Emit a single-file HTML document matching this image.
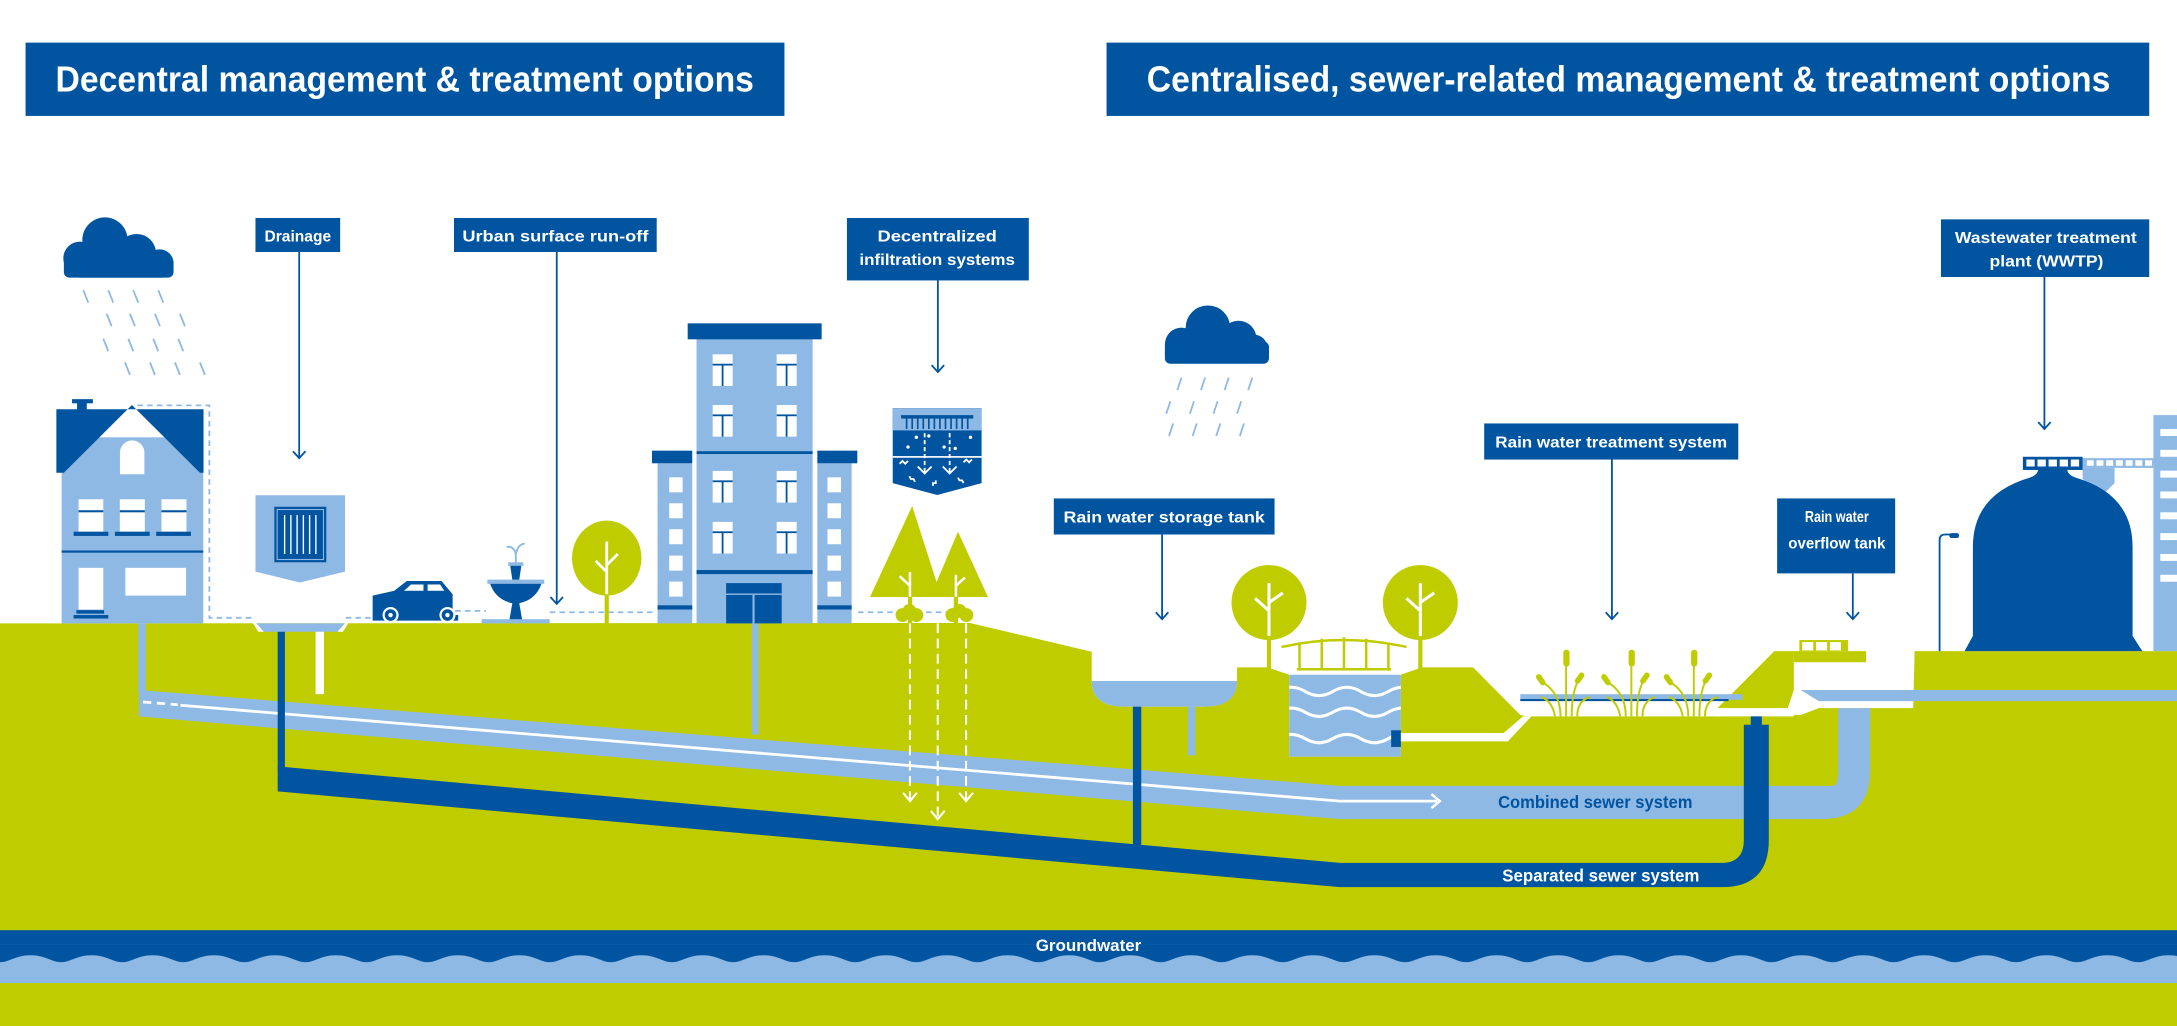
<!DOCTYPE html>
<html><head><meta charset="utf-8"><style>
html,body{margin:0;padding:0;background:#fff;}
svg{display:block;}
text{font-family:"Liberation Sans",sans-serif;font-weight:bold;}
</style></head><body>
<svg width="2177" height="1026" viewBox="0 0 1568 739" preserveAspectRatio="none" xmlns="http://www.w3.org/2000/svg">
<defs>
<clipPath id="pondclip"><rect x="928.6" y="486" width="80.4" height="59"/></clipPath>
<pattern id="wave" x="0" y="680" width="44" height="30" patternUnits="userSpaceOnUse">
<path d="M0,13 c7,0 11,-5 22,-5 c11,0 15,5 22,5 L44,30 L0,30 Z" fill="#8fb9e5"/>
</pattern>
</defs>
<rect width="1568" height="739" fill="#fff"/>

<!-- Headers -->
<rect x="18.4" y="30.7" width="546.6" height="52.8" fill="#0054a0"/>
<text x="40" y="66" font-size="26" fill="#fff" textLength="503" lengthAdjust="spacingAndGlyphs">Decentral management &amp; treatment options</text>
<rect x="797" y="30.7" width="751" height="52.8" fill="#0054a0"/>
<text x="826" y="66" font-size="26" fill="#fff" textLength="694" lengthAdjust="spacingAndGlyphs">Centralised, sewer-related management &amp; treatment options</text>

<!-- Clouds -->
<g fill="#0054a0">
<circle cx="75.6" cy="172.9" r="16.3"/><circle cx="57.6" cy="186" r="12"/><circle cx="98.4" cy="182.5" r="14"/><circle cx="115" cy="189.6" r="10"/>
<rect x="46" y="185" width="79" height="15" rx="4"/>
<rect x="57" y="180" width="60" height="20"/>
</g>
<g stroke="#8fb9e5" stroke-width="1.3">
<line x1="60" y1="209" x2="63.6" y2="218"/><line x1="78" y1="209" x2="81.6" y2="218"/><line x1="96" y1="209" x2="99.6" y2="218"/><line x1="114" y1="209" x2="117.6" y2="218"/>
<line x1="76.8" y1="226" x2="80.4" y2="235"/><line x1="93.6" y1="226" x2="97.2" y2="235"/><line x1="111.6" y1="226" x2="115.2" y2="235"/><line x1="129.6" y1="226" x2="133.2" y2="235"/>
<line x1="74.4" y1="244" x2="78" y2="253"/><line x1="92.4" y1="244" x2="96" y2="253"/><line x1="110.4" y1="244" x2="114" y2="253"/><line x1="128.4" y1="244" x2="132" y2="253"/>
<line x1="90" y1="261" x2="93.6" y2="270"/><line x1="108" y1="261" x2="111.6" y2="270"/><line x1="126" y1="261" x2="129.6" y2="270"/><line x1="144" y1="261" x2="147.6" y2="270"/>
</g>
<g fill="#0054a0">
<circle cx="870" cy="236" r="16"/><circle cx="851" cy="248" r="12"/><circle cx="892" cy="244" r="13"/><circle cx="903" cy="251" r="10"/>
<rect x="839" y="246" width="75" height="16" rx="4"/>
</g>
<g stroke="#8fb9e5" stroke-width="1.3">
<line x1="848" y1="281" x2="851" y2="272"/><line x1="865" y1="281" x2="868" y2="272"/><line x1="882" y1="281" x2="885" y2="272"/><line x1="899" y1="281" x2="902" y2="272"/>
<line x1="840" y1="298" x2="843" y2="289"/><line x1="857" y1="298" x2="860" y2="289"/><line x1="874" y1="298" x2="877" y2="289"/><line x1="891" y1="298" x2="894" y2="289"/>
<line x1="842" y1="314" x2="845" y2="305"/><line x1="859" y1="314" x2="862" y2="305"/><line x1="876" y1="314" x2="879" y2="305"/><line x1="893" y1="314" x2="896" y2="305"/>
</g>

<!-- Ground -->
<path d="M0,449 L698.6,448.7 L786.3,469.4 L786.3,490.5 Q786.3,509 810,509 L867,509 Q891,509 891,490 L891,480.7 L913,480.7 L928.6,486 L928.6,545 L1009,545 L1009,486 L1024,480.7 L1061,480.7 L1095,515 L1100,516 L1240,516 L1237,510 L1278,469 L1292,469 L1292,497 L1297,497 L1297,510 L1378,510 L1379,469 L1568,469 L1568,739 L0,739 Z" fill="#bfcd00"/>
<path d="M786.3,490.5 L891,490.5 Q891,509 867,509 L810,509 Q786.3,509 786.3,490.5 Z" fill="#8fb9e5"/>
<rect x="928.6" y="486" width="80.4" height="59" fill="#8fb9e5"/>
<g clip-path="url(#pondclip)" fill="none" stroke="#fff" stroke-width="2.2">
<path d="M920,498 q10,-6 20,0 t20,0 t20,0 t20,0 t20,0"/>
<path d="M920,513 q10,-6 20,0 t20,0 t20,0 t20,0 t20,0"/>
<path d="M920,532 q10,-6 20,0 t20,0 t20,0 t20,0 t20,0"/>
</g>
<rect x="1002" y="526" width="7" height="12" fill="#0054a0"/>
<path d="M1009,528 L1083,528 L1097,516 L1103,516 L1086,534 L1009,534 Z" fill="#fff"/>
<g stroke="#bfcd00" stroke-width="1.8" fill="none">
<path d="M923,466 Q968,456 1013,466"/>
<line x1="936" y1="464" x2="936" y2="483"/><line x1="952" y1="460" x2="952" y2="483"/><line x1="968" y1="459" x2="968" y2="483"/><line x1="984" y1="460" x2="984" y2="483"/><line x1="1000" y1="464" x2="1000" y2="483"/>
<line x1="934" y1="482" x2="1002" y2="482"/>
</g>
<g fill="#bfcd00">
<ellipse cx="914" cy="434" rx="27" ry="27"/><rect x="912.5" y="455" width="3" height="28"/>
<ellipse cx="1023" cy="434" rx="27" ry="27"/><rect x="1021.5" y="455" width="3" height="28"/>
</g>
<g stroke="#fff" stroke-width="2.2" fill="none">
<path d="M914,458 L914,420 M914,440 L904,431 M914,434 L924,427"/>
<path d="M1023,458 L1023,420 M1023,440 L1013,431 M1023,434 L1033,427"/>
</g>
<rect x="1095" y="500" width="160" height="4" fill="#8fb9e5"/>
<rect x="1095" y="503.5" width="150" height="1.5" fill="#0054a0"/>
<g stroke="#bfcd00" stroke-width="1.4" fill="none">
<path d="M1128,516 L1128,470 M1124,516 Q1124,500 1112,492 M1132,516 Q1132,497 1138,488 M1120,516 Q1118,505 1110,502 M1136,516 Q1136,505 1145,502"/>
<path d="M1175,516 L1175,470 M1171,516 Q1171,500 1159,492 M1179,516 Q1179,497 1185,488 M1167,516 Q1165,505 1157,502 M1183,516 Q1183,505 1192,502"/>
<path d="M1220,516 L1220,470 M1216,516 Q1216,500 1204,492 M1224,516 Q1224,497 1230,488 M1212,516 Q1210,505 1202,502 M1228,516 Q1228,505 1237,502"/>
</g>
<g fill="#bfcd00">
<rect x="1126" y="468" width="4.5" height="12" rx="2"/><rect x="1173" y="468" width="4.5" height="12" rx="2"/><rect x="1218" y="468" width="4.5" height="12" rx="2"/>
<rect x="1108" y="485" width="4" height="9" rx="2" transform="rotate(-35 1110 490)"/><rect x="1136" y="484" width="4" height="9" rx="2" transform="rotate(35 1138 488)"/>
<rect x="1155" y="485" width="4" height="9" rx="2" transform="rotate(-35 1157 490)"/><rect x="1183" y="484" width="4" height="9" rx="2" transform="rotate(35 1185 488)"/>
<rect x="1200" y="485" width="4" height="9" rx="2" transform="rotate(-35 1202 490)"/><rect x="1228" y="484" width="4" height="9" rx="2" transform="rotate(35 1230 488)"/>
</g>
<rect x="1292" y="469" width="52" height="8" fill="#bfcd00"/>
<rect x="1296" y="461" width="35" height="8" fill="#bfcd00"/>
<rect x="1298" y="462.5" width="8" height="6" fill="#fff"/><rect x="1308" y="462.5" width="8" height="6" fill="#fff"/><rect x="1318" y="462.5" width="8" height="6" fill="#fff"/>
<path d="M1297,497 L1568,497 L1568,505 L1310,505 Z" fill="#8fb9e5"/>
<path d="M1292,497 L1297,497 L1310,510 L1297,515 L1286,515 Z" fill="#fff"/>
<rect x="1237" y="510" width="55" height="6" fill="#fff"/>

<!-- Underground pipes -->
<path d="M100,497 L965,566 L1320,566 Q1324,566 1324,555 L1324,510 L1347,510 L1347,555 Q1347,590 1312,590 L965,590 L100,516 Z" fill="#8fb9e5"/>
<polyline points="130,508 965,577 1035,577" fill="none" stroke="#fff" stroke-width="2"/>
<line x1="103" y1="505.6" x2="128" y2="507.6" stroke="#fff" stroke-width="2" stroke-dasharray="6,4"/>
<polyline points="1031,572 1037,577 1031,582" fill="none" stroke="#fff" stroke-width="1.8"/>
<text x="1079" y="582" font-size="12.5" fill="#0054a0" textLength="140" lengthAdjust="spacingAndGlyphs">Combined sewer system</text>

<path d="M200,552 L965,621.5 L1240,621.5 Q1256,621.5 1256,605 L1256,522 L1261,522 L1261,516 L1269,516 L1269,522 L1274,522 L1274,605 Q1274,639 1240,639 L965,639 L200,570 Z" fill="#0054a0"/>
<text x="1082" y="635" font-size="12.5" fill="#fff" textLength="142" lengthAdjust="spacingAndGlyphs">Separated sewer system</text>

<rect x="99.6" y="449" width="5.4" height="50" fill="#8fb9e5"/>
<rect x="200" y="454" width="5.2" height="100" fill="#0054a0"/>
<rect x="227.3" y="454" width="6" height="46" fill="#fff"/>
<rect x="541.5" y="449" width="5" height="80" fill="#8fb9e5"/>
<rect x="816" y="509" width="6" height="100" fill="#0054a0"/>
<rect x="855.6" y="509" width="5.4" height="35" fill="#8fb9e5"/>

<g stroke="#fff" stroke-width="1.5" fill="none">
<line x1="655.4" y1="449" x2="655.4" y2="577" stroke-dasharray="7,4"/>
<line x1="675.4" y1="449" x2="675.4" y2="590" stroke-dasharray="7,4"/>
<line x1="695.8" y1="449" x2="695.8" y2="577" stroke-dasharray="7,4"/>
<polyline points="650.4,571 655.4,577 660.4,571"/>
<polyline points="670.4,584 675.4,590 680.4,584"/>
<polyline points="690.8,571 695.8,577 700.8,571"/>
</g>

<!-- Groundwater -->
<rect x="0" y="670" width="1568" height="38" fill="#0054a0"/>
<rect x="0" y="680" width="1568" height="28" fill="url(#wave)"/>
<text x="746" y="685" font-size="12" fill="#fff" textLength="76" lengthAdjust="spacingAndGlyphs">Groundwater</text>

<!-- House -->
<rect x="44.4" y="315" width="102" height="134" fill="#8fb9e5"/>
<path d="M40.6,294.8 L146.6,294.8 L146.6,340.5 L144,340.5 L95,291.7 L46,340.5 L40.6,340.5 Z" fill="#0054a0"/>
<rect x="51.9" y="287.5" width="15" height="3" fill="#0054a0"/><rect x="55.5" y="290" width="7" height="5" fill="#0054a0"/>
<path d="M86.4,341.6 L86.4,326 A8.8,8.8 0 0 1 104,326 L104,341.6 Z" fill="#fff"/>
<g fill="#fff"><rect x="56.6" y="359.6" width="17.8" height="23.3"/><rect x="86.3" y="359.6" width="18" height="23.3"/><rect x="116.3" y="359.6" width="18" height="23.3"/></g>
<g fill="#0054a0"><rect x="56.6" y="367.5" width="17.8" height="1.5"/><rect x="86.3" y="367.5" width="18" height="1.5"/><rect x="116.3" y="367.5" width="18" height="1.5"/>
<rect x="53" y="383" width="25" height="3"/><rect x="82.8" y="383" width="25" height="3"/><rect x="112.5" y="383" width="25" height="3"/>
<rect x="44.4" y="396.5" width="102" height="1.6"/>
<rect x="53" y="443" width="25" height="2.5"/><rect x="55" y="439.5" width="20" height="2.5"/></g>
<rect x="56.6" y="409" width="17.8" height="30" fill="#fff"/>
<rect x="90.3" y="409" width="43.7" height="20" fill="#fff"/>
<g fill="none" stroke="#8fb9e5" stroke-width="1.3" stroke-dasharray="4,3">
<polyline points="99,292 150.8,292 150.8,445 184,445"/>
<polyline points="249,445 268,445"/>
<polyline points="300,420 314,420 320,428 322,440 350,440"/>
<polyline points="396,441 470,441"/>
<polyline points="618,441 700,441"/>
</g>
<path d="M184.8,449 L248.5,449 L243,455 L190,455 Z" fill="#8fb9e5"/>
<path d="M181,447 L184.8,449 L190,455 L186,455 Z M252,447 L248.5,449 L243,455 L247,455 Z" fill="#fff"/>
<path d="M184,356.7 L248.5,356.7 L248.5,411.7 L216,419.6 L184,411.7 Z" fill="#8fb9e5"/>
<rect x="197.6" y="365" width="37.4" height="40" fill="#0054a0"/>
<rect x="199.6" y="367" width="33.4" height="36" fill="none" stroke="#8fb9e5" stroke-width="0.8"/>
<g stroke="#fff" stroke-width="1"><line x1="205" y1="371" x2="205" y2="399"/><line x1="209.5" y1="371" x2="209.5" y2="399"/><line x1="214" y1="371" x2="214" y2="399"/><line x1="218.5" y1="371" x2="218.5" y2="399"/><line x1="223" y1="371" x2="223" y2="399"/><line x1="227.5" y1="371" x2="227.5" y2="399"/></g>
<!-- Car -->
<path d="M268.4,437 L268.4,429 L284,425.5 L293,418.5 L318,418.5 L326,428 L326,443 L330,443 L330,447 L268.4,447 Z" fill="#0054a0"/>
<path d="M291,425.5 L296,421 L305,421 L305,425.5 Z M308,421 L317,421 L320,425.5 L308,425.5 Z" fill="#fff"/>
<circle cx="281.3" cy="443" r="5.8" fill="#fff"/><circle cx="281.3" cy="443" r="4.2" fill="#0054a0"/><circle cx="281.3" cy="443" r="1.6" fill="#fff"/>
<circle cx="322.3" cy="443" r="5.8" fill="#fff"/><circle cx="322.3" cy="443" r="4.2" fill="#0054a0"/><circle cx="322.3" cy="443" r="1.6" fill="#fff"/>
<!-- Fountain -->
<rect x="346.9" y="446" width="49" height="3" fill="#8fb9e5"/>
<rect x="351" y="417.5" width="41" height="3" fill="#8fb9e5"/>
<path d="M353,420.5 L390,420.5 Q386,432 374,434.5 L376,446 L367,446 L369,434.5 Q357,432 353,420.5 Z" fill="#0054a0"/>
<rect x="366" y="405" width="11" height="2.5" fill="#8fb9e5"/>
<path d="M367.5,407.5 L375.5,407.5 L374,417.5 L369,417.5 Z" fill="#0054a0"/>
<path d="M371.5,405 L371.5,397 M371.5,399 Q370,393 365,394 M371.5,399 Q373,392 378,391.5" fill="none" stroke="#8fb9e5" stroke-width="1.4"/>
<!-- Tree -->
<ellipse cx="437" cy="402" rx="25" ry="27" fill="#bfcd00"/>
<rect x="435.5" y="425" width="3" height="24" fill="#bfcd00"/>
<path d="M437,428 L437,390 M437,412 L429,404 M437,407 L445,399" stroke="#fff" stroke-width="2" fill="none"/>
<!-- Building -->
<rect x="501.7" y="244" width="83.6" height="205" fill="#8fb9e5"/>
<rect x="495.3" y="232.9" width="96.5" height="11.5" fill="#0054a0"/>
<rect x="501.7" y="325" width="83.6" height="2" fill="#0054a0"/>
<rect x="501.7" y="410.6" width="83.6" height="2.9" fill="#0054a0"/>
<rect x="473.6" y="333.7" width="25" height="115.3" fill="#8fb9e5"/><rect x="469.6" y="324.6" width="29" height="9.1" fill="#0054a0"/>
<rect x="588.7" y="333.7" width="24.7" height="115.3" fill="#8fb9e5"/><rect x="588.7" y="324.6" width="28.8" height="9.1" fill="#0054a0"/>
<rect x="473.6" y="436" width="25" height="3" fill="#0054a0"/><rect x="588.7" y="436" width="24.7" height="3" fill="#0054a0"/>
<g fill="#fff">
<rect x="513.3" y="255.2" width="14.4" height="22.8"/><rect x="559.4" y="255.2" width="14.4" height="22.8"/>
<rect x="513.3" y="291.7" width="14.4" height="22.8"/><rect x="559.4" y="291.7" width="14.4" height="22.8"/>
<rect x="513.3" y="339.2" width="14.4" height="22.8"/><rect x="559.4" y="339.2" width="14.4" height="22.8"/>
<rect x="513.3" y="375.9" width="14.4" height="22.8"/><rect x="559.4" y="375.9" width="14.4" height="22.8"/>
<rect x="482" y="343.8" width="9.7" height="10.8"/><rect x="482" y="362.5" width="9.7" height="10.8"/><rect x="482" y="381.2" width="9.7" height="10.8"/><rect x="482" y="400.2" width="9.7" height="10.8"/><rect x="482" y="418.9" width="9.7" height="10.8"/>
<rect x="596" y="343.8" width="9.7" height="10.8"/><rect x="596" y="362.5" width="9.7" height="10.8"/><rect x="596" y="381.2" width="9.7" height="10.8"/><rect x="596" y="400.2" width="9.7" height="10.8"/><rect x="596" y="418.9" width="9.7" height="10.8"/>
</g>
<g fill="#0054a0">
<rect x="513.3" y="262" width="14.4" height="1.3"/><rect x="559.4" y="262" width="14.4" height="1.3"/><rect x="519.8" y="263" width="1.3" height="15"/><rect x="565.9" y="263" width="1.3" height="15"/>
<rect x="513.3" y="298.5" width="14.4" height="1.3"/><rect x="559.4" y="298.5" width="14.4" height="1.3"/><rect x="519.8" y="299.5" width="1.3" height="15"/><rect x="565.9" y="299.5" width="1.3" height="15"/>
<rect x="513.3" y="346" width="14.4" height="1.3"/><rect x="559.4" y="346" width="14.4" height="1.3"/><rect x="519.8" y="347" width="1.3" height="15"/><rect x="565.9" y="347" width="1.3" height="15"/>
<rect x="513.3" y="382.7" width="14.4" height="1.3"/><rect x="559.4" y="382.7" width="14.4" height="1.3"/><rect x="519.8" y="383.7" width="1.3" height="15"/><rect x="565.9" y="383.7" width="1.3" height="15"/>
<rect x="523" y="420" width="40" height="7.5"/><rect x="523" y="428.5" width="19" height="20.5"/><rect x="543.5" y="428.5" width="19.5" height="20.5"/>
</g>
<!-- Infiltration icon -->
<path d="M643,294 L707,294 L707,348 L675,356.5 L643,348 Z" fill="#0054a0"/>
<rect x="643" y="294" width="64" height="16" fill="#8fb9e5"/>
<rect x="649" y="299" width="52" height="2.5" fill="#0054a0"/>
<g stroke="#0054a0" stroke-width="1.2"><line x1="653" y1="301" x2="653" y2="309"/><line x1="657" y1="301" x2="657" y2="309"/><line x1="661" y1="301" x2="661" y2="309"/><line x1="665" y1="301" x2="665" y2="309"/><line x1="669" y1="301" x2="669" y2="309"/><line x1="673" y1="301" x2="673" y2="309"/><line x1="677" y1="301" x2="677" y2="309"/><line x1="681" y1="301" x2="681" y2="309"/><line x1="685" y1="301" x2="685" y2="309"/><line x1="689" y1="301" x2="689" y2="309"/><line x1="693" y1="301" x2="693" y2="309"/><line x1="697" y1="301" x2="697" y2="309"/></g>
<rect x="643" y="328.5" width="64" height="1.2" fill="#fff"/>
<g fill="#fff"><circle cx="654" cy="322" r="1.2"/><circle cx="660" cy="315" r="1.2"/><circle cx="669" cy="314" r="1.2"/><circle cx="680" cy="322" r="1.2"/><circle cx="688" cy="323" r="1.2"/><circle cx="699" cy="315" r="1.2"/></g>
<g stroke="#fff" stroke-width="1.3" fill="none"><line x1="666" y1="312" x2="666" y2="341" stroke-dasharray="3,2"/><line x1="684" y1="312" x2="684" y2="341" stroke-dasharray="3,2"/>
<polyline points="661,336 666,341 671,336"/><polyline points="679,336 684,341 689,336"/>
<path d="M648,334 l2,-2 l2,2 l2,-2 M694,333 l2,-2 l2,2 l2,-2 M655,343 l1,2 l2,0 l1,2 M672,350 l0,-2 l2,0 l0,-2 M690,344 l1,2 l2,0 l1,2"/></g>
<polygon points="657,364.5 678,430 626.6,430" fill="#bfcd00"/>
<polygon points="690,383 711.6,430 670,430" fill="#bfcd00"/>
<rect x="654" y="410" width="3" height="39" fill="#bfcd00"/><rect x="687" y="410" width="3" height="39" fill="#bfcd00"/>
<path d="M655.4,430 L655.4,412 M655.4,422 L648,415 M688.5,430 L688.5,414 M688.5,422 L695,416" stroke="#fff" stroke-width="1.8"/>
<g fill="#bfcd00"><circle cx="650" cy="443" r="5"/><circle cx="655" cy="440" r="5"/><circle cx="660" cy="443" r="5"/><circle cx="686" cy="443" r="5"/><circle cx="691" cy="440" r="5"/><circle cx="696" cy="443" r="5"/></g>

<!-- WWTP -->
<rect x="1551" y="299" width="17" height="170" fill="#8fb9e5"/>
<g fill="#fff"><rect x="1556" y="309" width="12" height="5"/><rect x="1556" y="324" width="12" height="5"/><rect x="1556" y="339" width="12" height="5"/><rect x="1556" y="354" width="12" height="5"/><rect x="1556" y="369" width="12" height="5"/><rect x="1556" y="384" width="12" height="5"/><rect x="1556" y="399" width="12" height="5"/><rect x="1556" y="414" width="12" height="5"/></g>
<rect x="1500" y="330" width="51" height="7" fill="#8fb9e5"/>
<path d="M1500,337 L1523,337 L1523,348 L1515,356 L1500,345 Z" fill="#8fb9e5"/>
<g fill="#fff"><rect x="1503" y="331.5" width="5" height="4"/><rect x="1510" y="331.5" width="5" height="4"/><rect x="1517" y="331.5" width="5" height="4"/><rect x="1524" y="331.5" width="5" height="4"/><rect x="1531" y="331.5" width="5" height="4"/><rect x="1538" y="331.5" width="5" height="4"/><rect x="1545" y="331.5" width="5" height="4"/></g>
<path d="M1468,338 Q1468,342 1462,344 Q1421,356 1421,394 L1421,458 L1415,469 L1543,469 L1536,458 L1536,394 Q1536,356 1495,344 Q1489,342 1489,338 Z" fill="#0054a0"/>
<rect x="1457" y="329" width="43" height="9.5" fill="#0054a0"/>
<g fill="#fff"><rect x="1459.5" y="331" width="6" height="5"/><rect x="1467.5" y="331" width="6" height="5"/><rect x="1475.5" y="331" width="6" height="5"/><rect x="1483.5" y="331" width="6" height="5"/><rect x="1491.5" y="331" width="6" height="5"/></g>
<path d="M1397,469 L1397,389 Q1397,385 1401,385 L1405,385" fill="none" stroke="#0054a0" stroke-width="1.3"/>
<rect x="1404" y="384" width="7" height="3.5" rx="1.5" fill="#0054a0"/>

<!-- Label boxes & arrows -->
<g fill="#0054a0">
<rect x="184" y="157" width="61" height="24.5"/>
<rect x="327" y="157" width="146" height="24.5"/>
<rect x="610" y="157" width="131" height="45"/>
<rect x="759" y="359" width="159" height="26"/>
<rect x="1069" y="305" width="183" height="26"/>
<rect x="1280" y="359" width="85" height="54"/>
<rect x="1398" y="158" width="150" height="41.5"/>
</g>
<g fill="#fff" font-size="11.5">
<text x="190.5" y="174" textLength="48" lengthAdjust="spacingAndGlyphs">Drainage</text>
<text x="333" y="174" textLength="134" lengthAdjust="spacingAndGlyphs">Urban surface run-off</text>
<text x="632" y="174" textLength="86" lengthAdjust="spacingAndGlyphs">Decentralized</text>
<text x="619" y="191" textLength="112" lengthAdjust="spacingAndGlyphs">infiltration systems</text>
<text x="766" y="376.5" textLength="145" lengthAdjust="spacingAndGlyphs">Rain water storage tank</text>
<text x="1077" y="322.5" textLength="167" lengthAdjust="spacingAndGlyphs">Rain water treatment system</text>
<text x="1300" y="376" textLength="46" lengthAdjust="spacingAndGlyphs">Rain water</text>
<text x="1288" y="395" textLength="70" lengthAdjust="spacingAndGlyphs">overflow tank</text>
<text x="1408" y="175" textLength="131" lengthAdjust="spacingAndGlyphs">Wastewater treatment</text>
<text x="1433" y="192" textLength="82" lengthAdjust="spacingAndGlyphs">plant (WWTP)</text>
</g>
<g stroke="#0054a0" stroke-width="1.3" fill="none">
<line x1="215.5" y1="181.5" x2="215.5" y2="330"/><polyline points="211,325 215.5,330 220,325"/>
<line x1="401" y1="181.5" x2="401" y2="435"/><polyline points="396.5,430 401,435 405.5,430"/>
<line x1="675.5" y1="202" x2="675.5" y2="268"/><polyline points="671,263 675.5,268 680,263"/>
<line x1="837" y1="385" x2="837" y2="446"/><polyline points="832.5,441 837,446 841.5,441"/>
<line x1="1161" y1="331" x2="1161" y2="446"/><polyline points="1156.5,441 1161,446 1165.5,441"/>
<line x1="1334.5" y1="413" x2="1334.5" y2="446"/><polyline points="1330,441 1334.5,446 1339,441"/>
<line x1="1472.5" y1="199.5" x2="1472.5" y2="309"/><polyline points="1468,304 1472.5,309 1477,304"/>
</g>
</svg>
</body></html>
